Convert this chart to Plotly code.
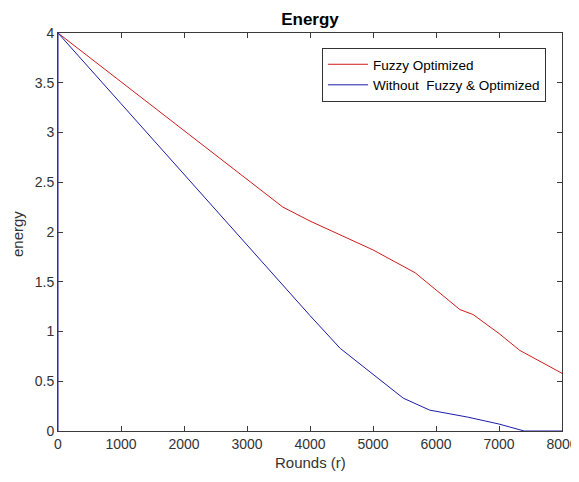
import plotly.graph_objects as go

rounds_fuzzy = [0, 1000, 2000, 3000, 3570, 4000, 5000, 5670, 6000, 6380, 6590, 7000, 7330, 8000]
energy_fuzzy = [4.0, 3.51, 3.02, 2.53, 2.25, 2.11, 1.82, 1.59, 1.42, 1.22, 1.17, 0.98, 0.81, 0.58]

rounds_plain = [0, 0, 1000, 2000, 3050, 3520, 3840, 4000, 4480, 5000, 5480, 5900, 6500, 7000, 7330, 7400, 8000]
energy_plain = [0.0, 4.0, 3.29, 2.58, 1.84, 1.50, 1.27, 1.16, 0.83, 0.57, 0.33, 0.21, 0.14, 0.07, 0.01, 0.0, 0.0]

x_ticks = [0, 1000, 2000, 3000, 4000, 5000, 6000, 7000, 8000]
y_ticks = [0, 0.5, 1, 1.5, 2, 2.5, 3, 3.5, 4]

FONT = "Liberation Sans, Arial, Helvetica"
W, H = 579, 482
OFF = 8  # page body margin in the browser
L, T = 58 - OFF, 33 - OFF
R = W - (562 - OFF)
B = H - (431 - OFF)
PW, PH = W - L - R, H - T - B

def px_x(sx):
    return (sx - OFF - L) / PW

def px_y(sy):
    return (H - B - (sy - OFF)) / PH

fig = go.Figure()
fig.add_trace(go.Scatter(x=rounds_fuzzy, y=energy_fuzzy, mode="lines",
                         name="Fuzzy Optimized",
                         line=dict(color="#d01c1c", width=1)))
fig.add_trace(go.Scatter(x=rounds_plain, y=energy_plain, mode="lines",
                         name="Without\u00a0 Fuzzy & Optimized",
                         line=dict(color="#1c1ca8", width=1)))

axis_common = dict(
    showgrid=False, zeroline=False, showline=True, linecolor="#3a3a3a", linewidth=1,
    mirror="ticks", ticks="inside", ticklen=5, tickcolor="#3a3a3a",
    tickfont=dict(family=FONT, size=14, color="#333333"),
    automargin=False,
)

fig.update_layout(
    width=W, height=H,
    margin=dict(l=L, r=R, t=T, b=B),
    paper_bgcolor="white", plot_bgcolor="white",
    title=dict(text="<b>Energy</b>", x=(L + PW / 2) / W, xanchor="center",
               y=1 - (19 - OFF) / H, yanchor="middle",
               font=dict(family=FONT, size=17, color="black")),
    xaxis=dict(range=[0, 8000], tickvals=x_ticks, tickformat="d", **axis_common),
    yaxis=dict(range=[0, 4], tickvals=y_ticks, **axis_common),
    legend=dict(x=px_x(546), xanchor="right", y=px_y(48), yanchor="top",
                bordercolor="#333333", borderwidth=1, bgcolor="white",
                font=dict(family=FONT, size=13.5, color="black"),
                tracegroupgap=0, itemwidth=40),
    showlegend=True,
    annotations=[
        dict(text="Rounds (r)", xref="paper", yref="paper", x=0.5, y=px_y(463),
             xanchor="center", yanchor="middle", showarrow=False,
             font=dict(family=FONT, size=15, color="#333333")),
        dict(text="energy", xref="paper", yref="paper", x=px_x(17), y=px_y(234),
             xanchor="center", yanchor="middle", showarrow=False, textangle=-90,
             font=dict(family=FONT, size=15, color="#333333")),
    ],
)

fig.write_html("out.html")
